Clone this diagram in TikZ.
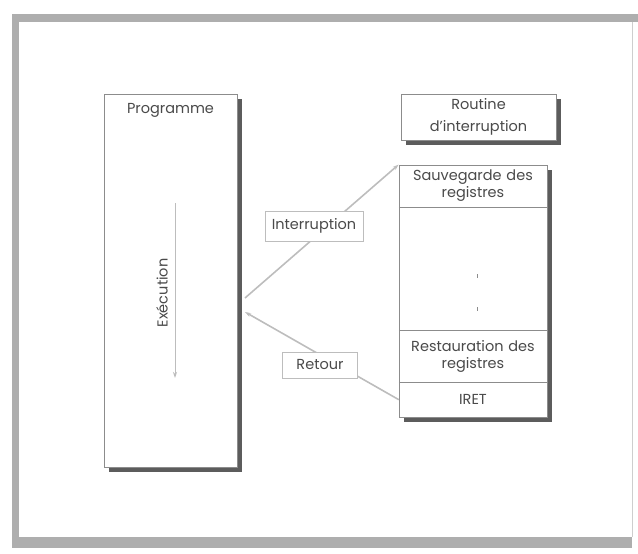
\documentclass[tikz,border=0pt]{standalone}
\usepackage{fontspec}
\setmainfont{Poppins}
\usetikzlibrary{arrows.meta, positioning, calc, shadows}
\definecolor{ink}{HTML}{4A4A4A}
\definecolor{rule}{HTML}{8C8C8C}
\definecolor{shade}{HTML}{5C5C5C}
\definecolor{frame}{HTML}{AEAEAE}
\definecolor{wire}{HTML}{BDBDBD}
\tikzset{
  font=\fontsize{14.5}{22}\selectfont,
  >={Stealth[length=6pt, width=4pt]},
  %
  box/.style={
    draw=rule, line width=0.8pt, fill=white, text=ink, inner sep=0pt,
    drop shadow={shadow xshift=5pt, shadow yshift=-5pt, fill=shade, opacity=1},
  },
  cell/.style={text=ink, align=center, inner sep=0pt, text width=148pt,
               font=\fontsize{14.5}{17}\selectfont},
  lbl/.style={draw=wire, line width=0.6pt, fill=white, text=ink, inner sep=3pt},
  %
  flow/.style={draw=wire, line width=1.6pt, ->},
  sep/.style={draw=rule, line width=0.6pt},
}

\begin{document}
\begin{tikzpicture}[x=1pt, y=-1pt]
  \useasboundingbox (0,0) rectangle (638,554);

  % =======================================================================
  % the frame round the page
  % =======================================================================
  \fill[frame] (12,14) rectangle (638,22);
  \fill[frame] (12,14) rectangle (19,548);
  \fill[frame] (12,537) rectangle (632,548);
  \draw[frame!60, line width=1pt] (632,22) -- (632,537);

  % =======================================================================
  % LEFT: the main program
  % =======================================================================
  \node[box, minimum width=133pt, minimum height=373pt] (prog) at (170.5,280.5) {};
  \node[cell, below=10pt of prog.north] (progname) {Programme};

  \coordinate (exectop) at (175,203);
  \coordinate (execbot) at (175,378);
  \draw[flow, line width=1pt] (exectop) -- (execbot);
  \node[text=ink, rotate=90] (exec) at (162,293) {Exécution};

  % =======================================================================
  % RIGHT: the interrupt routine
  % =======================================================================
  \node[box, minimum width=155pt, minimum height=46pt, align=center]
    (routine) at (478.5,117) {Routine\\d'interruption};

  \node[box, minimum width=148pt, minimum height=252pt] (pile) at (473,291) {};
  \node[cell, minimum height=42pt, below=0pt of pile.north] (save)
    {Sauvegarde des\\registres};
  \node[cell, minimum height=35pt, above=0pt of pile.south] (iret) {IRET};
  \node[cell, minimum height=51pt, above=0pt of iret] (restore)
    {Restauration des\\registres};

  \draw[sep] (save.south west) -- (save.south east);
  \draw[sep] (restore.north west) -- (restore.north east);
  \draw[sep] (restore.south west) -- (restore.south east);

  % the dots in the middle
  \foreach \dy in {-15,18} {
    \draw[rule, line width=1pt] ($(pile.center)+(4,\dy-2)$) -- ++(0,4);
  }

  % =======================================================================
  % the jump there and back
  % =======================================================================
  \coordinate (intsrc) at (245,298);
  \coordinate (retdst) at (245,312);

  \draw[flow] (intsrc) -- (pile.north west);
  \draw[flow] (iret.west) -- (retdst);

  \node[lbl, minimum width=98pt, minimum height=30pt] (lblint) at (314,226)
    {Interruption};
  \node[lbl, minimum width=75pt, minimum height=26pt] (lblret) at (320,365)
    {Retour};

\end{tikzpicture}
\end{document}
